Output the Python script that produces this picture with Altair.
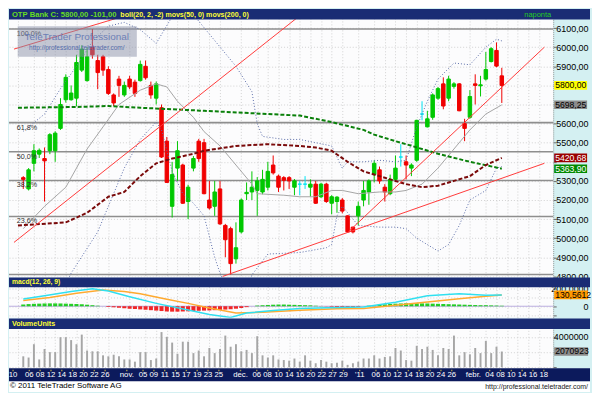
import altair as alt
import pandas as pd

# ---------------- layout helpers (reference is 600x400; chart is drawn 584x384 inside the 8px page margin)
SX = 584 / 600
SY = 384 / 400
def X(px): return round(px * SX, 2)
def Y(py): return round(py * SY, 2)

FULLW = X(600)
W = X(562)
H1 = Y(281)
H2 = round(Y(323) - Y(281), 2)
H3 = round(Y(375) - Y(323), 2)
H4 = round(Y(400) - Y(375), 2)

FONT = "Liberation Sans"
NAVY = "#1a2c74"

# ---------------- data (trading-day index: 0 = 2010-10-01)
day = list(range(1, 92))
opens = [5317,5258,5392,5440,5417,5458,5458,5575,5725,5725,
         5733,5880,5825,6000,5930,5950,5883,5750,5833,5750,
         5833,5817,5825,5900,5800,5733,5683,5508,5167,5367,
         5383,5192,5367,5508,5500,5200,5167,5258,5067,5050,
         4892,5033,5233,5242,5250,5242,5267,5383,5325,5317,
         5317,5267,5283,5283,5267,5283,5217,5283,5183,5192,
         5200,5117,5058,5117,5200,5242,5333,5358,5267,5233,
         5308,5425,5400,5367,5408,5650,5583,5633,5733,5808,
         5733,5795,5808,5600,5633,5808,5798,5833,5925,5983,
         5850]
highs = [5325,5367,5492,5470,5475,5550,5560,5733,5858,5800,
         5960,6010,6000,6095,5960,5960,5900,5758,5850,5820,
         5850,5830,5930,5930,5820,5820,5700,5530,5400,5508,
         5390,5280,5430,5520,5520,5300,5300,5300,5075,5060,
         5083,5208,5292,5350,5320,5358,5400,5433,5333,5325,
         5325,5310,5300,5325,5308,5300,5290,5290,5225,5220,
         5210,5120,5060,5192,5300,5308,5408,5375,5283,5333,
         5433,5492,5433,5392,5620,5717,5667,5758,5792,5842,
         5850,5817,5812,5625,5775,5858,5850,5975,6000,6025,
         5892]
lows = [5258,5250,5350,5420,5192,5440,5400,5567,5710,5720,
        5690,5870,5820,5940,5780,5850,5750,5692,5740,5740,
        5780,5740,5820,5830,5730,5700,5420,5290,5108,5300,
        5180,5100,5350,5400,5230,5150,5117,5070,4900,4810,
        4867,5025,5200,5200,5117,5230,5250,5333,5242,5250,
        5258,5225,5225,5258,5217,5180,5210,5185,5125,5133,
        5130,5030,5025,5067,5167,5175,5292,5285,5192,5225,
        5300,5375,5308,5325,5400,5617,5580,5620,5725,5675,
        5717,5783,5665,5508,5625,5700,5742,5825,5920,5895,
        5708]
closes = [5308,5358,5458,5460,5405,5542,5550,5700,5842,5760,
          5920,5990,5950,5960,5867,5880,5758,5708,5800,5800,
          5792,5758,5910,5840,5750,5808,5425,5292,5333,5458,
          5183,5267,5417,5417,5233,5158,5242,5075,4992,4867,
          4950,5200,5240,5267,5300,5308,5350,5342,5267,5303,
          5300,5300,5283,5283,5283,5183,5283,5192,5217,5215,
          5142,5033,5033,5167,5250,5300,5392,5300,5242,5308,
          5367,5425,5383,5383,5617,5650,5625,5750,5783,5692,
          5833,5808,5667,5575,5742,5800,5803,5883,5992,5901,
          5800]
volume_m = [1.44,1.28,3.03,1.03,2.4,1.99,1.99,3.95,3.95,3.57,
            3.03,4.29,2.2,2.1,2.1,1.57,1.44,1.65,1.44,1.03,
            1.03,0.74,1.99,1.99,0.95,1.15,4.62,4.0,3.24,1.78,
            3.36,3.36,1.86,2.2,1.44,2.53,1.86,2.4,4.16,2.7,
            3.03,2.1,2.28,1.86,4.08,1.57,1.28,1.57,1.03,0.95,
            0.87,1.15,0.74,1.57,0.87,0.53,0.95,0.74,0.53,0.61,
            0.87,0.32,0.53,0.74,1.15,1.15,1.57,1.15,1.36,1.44,
            2.53,2.2,0.95,0.87,2.82,2.4,2.7,2.28,1.57,2.53,
            2.4,4.16,1.57,1.99,1.7,2.53,1.86,3.45,1.86,2.7,
            2.070923]
macd_hist = [20,25,28,30,32,33,33,32,30,28,
             25,22,18,12,6,0,-8,-12,-18,-22,
             -28,-32,-36,-40,-45,-50,-55,-60,-62,-62,
             -60,-58,-55,-52,-50,-48,-45,-42,-38,-34,
             -28,-20,-10,0,8,12,15,18,20,20,
             18,16,14,12,10,6,2,-2,-6,-10,
             -14,-16,-14,-8,0,6,12,18,22,26,
             30,32,34,34,34,33,32,30,28,26,
             24,22,20,18,16,14,12,12,10,8,
             6]

bb_mid_day = [1,5,9,13,16,19,23,26,28,30,33,35,38,41,44,45,50,53,56,59,61,64,68,71,73,76,79,82,85,88,91]
bb_mid = [5050,5167,5267,5467,5583,5700,5775,5808,5792,5717,5633,5558,5483,5383,5283,5233,5225,5217,5217,5250,5250,5233,5242,5242,5250,5283,5367,5467,5567,5650,5698.25]
bb_up_day = [1,5,8,11,14,17,20,23,26,29,31,33,37,41,44,45,46,50,53,56,59,61,62,65,68,71,73,75,77,79,82,85,88,90,91]
bb_up = [5560,5650,5783,5900,6030,6110,6130,6092,6020,6160,6210,6170,6035,5900,5767,5600,5533,5517,5517,5500,5483,5367,5400,5400,5408,5400,5408,5583,5717,5833,5917,5908,6000,6042,6033]
bb_lo_day = [8,10,15,17,20,23,26,27,29,31,33,35,37,38,40,43,44,47,53,58,59,60,61,64,68,71,73,75,79,81,83,85,88,90,91]
bb_lo = [4700,4817,5033,5167,5367,5517,5608,5567,5350,5233,5183,5117,4900,4817,4700,4720,4808,4917,4925,4950,4967,5117,5167,5067,5058,5058,5050,5000,4933,4967,5067,5200,5250,5367,5375]
ma50_day = [0,3,9,13,17,20,23,26,29,33,35,41,47,53,56,59,62,65,68,70,73,76,79,82,85,88,91]
ma50 = [5067,5072,5083,5133,5217,5242,5325,5392,5417,5442,5458,5483,5492,5483,5475,5458,5400,5350,5325,5308,5283,5267,5275,5300,5325,5383,5420.68]
ma200_day = [0,11,17,23,35,47,53,59,65,67,71,73,79,85,91]
ma200 = [5683,5687,5692,5683,5667,5650,5642,5608,5567,5542,5508,5492,5442,5400,5363.90]

macd_day = [1,5,10,14,17,21,26,32,36,40,43,48,53,58,65,71,77,83,88,91]
macd_line = [84,120,170,200,175,110,33,-44,-95,-128,-77,-50,-25,-18,-8,47,121,143,125,128]
signal_day = [1,6,11,16,20,23,28,32,36,41,46,53,60,65,71,77,83,88,91]
signal_line = [66,100,150,186,170,143,80,33,-20,-77,-70,-45,-30,-26,11,50,85,115,130.5612]

fib_levels = [6095, 5605, 5453, 5302, 5114, 4810]
fib_labels = ["100,0%", "61,8%", "50,0%", "38,2%", "23,6%", ""]

trend_id = ["a", "a", "b", "b", "c", "c", "d", "d"]
trend_day = [-0.75, 18.4, -0.75, 53.0, 62.2, 99.0, 38.5, 99.0]
trend_price = [5990, 6150, 4978, 6165, 5035, 6000, 4800, 5392]

tick_day = [0,3,5,7,9,11,13,15,17,21,24,26,28,30,32,34,36,38,42,45,47,49,51,53,55,57,59,61,
            64,67,69,71,73,75,77,79,81,85,88,90,92,94,96,98]
tick_label = ["10","06","08","12","14","18","20","22","26","nov.","05","09","11","15","17","19","23","25",
              "dec.","06","08","10","14","16","20","22","27","29","'11","06","10","12","14","18","20","24","26",
              "febr.","04","08","10","14","16","18"]

price_tag_value = [5800.00, 5698.25, 5420.68, 5363.90]
price_tag_text = ["5800,00", "5698,25", "5420,68", "5363,90"]
price_tag_bg = ["#ffff00", "#8c8c8c", "#9a0000", "#008a00"]
price_tag_fg = ["#000000", "#000000", "#ffffff", "#ffffff"]
covered_price_labels = [5800, 5700, 5400]   # axis labels hidden under the value tags

# ---------------- scales
X_DOMAIN = [-4.2 / 5.593, (562 - 4.2) / 5.593]
P_DOMAIN = [4795, 6200]
M_DOMAIN = [-131.6, 329.0]
V_DOMAIN = [-100000, 6416000]

GRID = "#d2d2d2"
AXFS = 9
TAGFS = 8.7

def xenc(grid=True):
    if grid:
        ax = alt.Axis(values=tick_day, grid=True, labels=False, ticks=False, domain=False,
                      title=None, gridColor=GRID, gridDash=[1, 2])
    else:
        ax = None
    return alt.X("day:Q", scale=alt.Scale(domain=X_DOMAIN, nice=False, zero=False), axis=ax, title=None)

LABEL_PAD = round(X(598) - W - 3, 2)
def axis_common(**kw):
    base = dict(orient="right", title=None, grid=True, gridColor=GRID, gridDash=[1, 2],
                tickColor="#666666", tickSize=3, domainColor="#9a9a9a", domainDash=[1, 1],
                labelFontSize=AXFS, labelFont=FONT, labelColor="#000000", labelAlign="right",
                labelPadding=LABEL_PAD, labelOverlap=False)
    base.update(kw)
    return alt.Axis(**base)

hidden = " || ".join(f"datum.value == {v}" for v in covered_price_labels)
P_AXIS = axis_common(values=list(range(4800, 6101, 100)),
                     labelExpr=f"({hidden}) ? '' : replace(format(datum.value, '.2f'), '.', ',')")
def yp(field):
    return alt.Y(f"{field}:Q", scale=alt.Scale(domain=P_DOMAIN, nice=False, zero=False), axis=P_AXIS, title=None)

M_AXIS = axis_common(values=[-100, 0, 100, 200],
                     labelExpr="datum.value == 0 ? '0' : (datum.value == 200 ? replace(format(datum.value, '.4f'), '.', ',') : '')")
def ym(field):
    return alt.Y(f"{field}:Q", scale=alt.Scale(domain=M_DOMAIN, nice=False, zero=False), axis=M_AXIS, title=None)

V_AXIS = axis_common(values=[0, 2000000, 4000000],
                     labelExpr="datum.value == 4000000 ? '4000000' : ''")
def yv(field):
    return alt.Y(f"{field}:Q", scale=alt.Scale(domain=V_DOMAIN, nice=False, zero=False), axis=V_AXIS, title=None)

one = pd.DataFrame({"k": [0]})

def box(x1, x2, y1, y2, color, opacity=1.0):
    return alt.Chart(one).mark_rect(color=color, opacity=opacity).encode(
        x=alt.value(x1), x2=alt.value(x2), y=alt.value(y1), y2=alt.value(y2))

def label(text, x, y, color, size=9, align="left", weight="normal", opacity=1.0):
    return alt.Chart(one).mark_text(text=text, align=align, baseline="middle", fontSize=size,
                                    font=FONT, fontWeight=weight, color=color, opacity=opacity).encode(
        x=alt.value(x), y=alt.value(y))

# ---------------- panel 1: price
cdf = pd.DataFrame({"day": day, "open": opens, "high": highs, "low": lows, "close": closes})
cdf["dir"] = ["up" if c > o else ("down" if c < o else "flat") for o, c in zip(opens, closes)]
dir_scale = alt.Scale(domain=["up", "down", "flat"], range=["#00c800", "#f00000", "#00e4f4"])

fib_df = pd.DataFrame({"level": fib_levels, "label": fib_labels})
fib_rules = alt.Chart(fib_df).mark_rule(color="#8e8e8e", strokeWidth=1.6).encode(y=yp("level"))
fib_text = alt.Chart(fib_df).mark_text(align="left", baseline="middle", dy=5, fontSize=7.2, font=FONT,
                                       color="#303030").encode(
    x=alt.value(X(8)), y=yp("level"), text="label:N")

wicks = alt.Chart(cdf).mark_rule(strokeWidth=1).encode(
    x=xenc(), y=yp("low"), y2="high:Q", color=alt.Color("dir:N", scale=dir_scale, legend=None))
bodies = alt.Chart(cdf).mark_bar(width=X(3.6), strokeWidth=1).encode(
    x=xenc(), y=yp("open"), y2="close:Q",
    color=alt.Color("dir:N", scale=dir_scale, legend=None),
    stroke=alt.Stroke("dir:N", scale=dir_scale, legend=None))

def pline(days, vals, color, width, dash=None):
    df = pd.DataFrame({"day": days, "v": vals})
    kw = dict(color=color, strokeWidth=width, clip=True)
    if dash:
        kw["strokeDash"] = dash
    return alt.Chart(df).mark_line(**kw).encode(x=xenc(), y=yp("v"))

l_mid = pline(bb_mid_day, bb_mid, "#a4a4a4", 1)
l_up = pline(bb_up_day, bb_up, "#5a6ca8", 1, [1, 2])
l_lo = pline(bb_lo_day, bb_lo, "#5a6ca8", 1, [1, 2])
l_ma50 = pline(ma50_day, ma50, "#7a0a0a", 2, [4, 2])
l_ma200 = pline(ma200_day, ma200, "#0a800a", 2, [4, 2])

trend_df = pd.DataFrame({"id": trend_id, "day": trend_day, "v": trend_price})
trends = alt.Chart(trend_df).mark_line(color="#ff3a3a", strokeWidth=1, clip=True).encode(
    x=xenc(), y=yp("v"), detail="id:N")

ptag_df = pd.DataFrame({"v": price_tag_value, "t": price_tag_text, "bg": price_tag_bg, "fg": price_tag_fg})
P_HALF = round(4.3 / (H1 / (P_DOMAIN[1] - P_DOMAIN[0])), 2)
ptag_rect = alt.Chart(ptag_df).transform_calculate(
    lo=f"datum.v - {P_HALF}", hi=f"datum.v + {P_HALF}").mark_rect().encode(
    x=alt.value(X(563)), x2=alt.value(X(597)), y=yp("lo"), y2="hi:Q",
    fill=alt.Fill("bg:N", scale=None))
ptag_text = alt.Chart(ptag_df).mark_text(align="left", baseline="middle", fontSize=TAGFS, font=FONT).encode(
    x=alt.value(X(564)), y=yp("v"), text="t:N", fill=alt.Fill("fg:N", scale=None))

watermark = alt.layer(
    box(X(9), X(132), Y(18), Y(50), "#8a90a8", 0.5),
    label("TeleTrader Professional", X(70), Y(29), "#6478b4", size=10, align="center", opacity=0.9),
    label("http://professional.teletrader.com/", X(70), Y(40.5), "#4a64a8", size=6.5, align="center", opacity=0.9),
)

title1 = alt.layer(
    box(0, FULLW, 0, Y(11), NAVY),
    label("OTP Bank C: 5800,00 -101,00", X(3), Y(5.8), "#66dd22", size=7.7, weight="bold"),
    label("boll(20, 2, -2) movs(50, 0) movs(200, 0)", X(115), Y(5.8), "#ffff33", size=7.1, weight="bold"),
    label("naponta", X(546), Y(5.8), "#22cc22", size=7.5, align="center"),
)

panel1 = alt.layer(
    fib_rules, wicks, bodies, l_mid, l_up, l_lo, l_ma200, l_ma50, trends, fib_text,
    watermark, ptag_rect, ptag_text, title1
).properties(width=W, height=H1)

# ---------------- panel 2: MACD
hdf = pd.DataFrame({"day": day, "h": macd_hist, "base": [0] * len(day)})
hdf["sgn"] = ["pos" if v >= 0 else "neg" for v in macd_hist]
hist = alt.Chart(hdf).mark_bar(width=X(4.2), opacity=0.85).encode(
    x=xenc(), y=ym("base"), y2="h:Q",
    color=alt.Color("sgn:N", scale=alt.Scale(domain=["pos", "neg"], range=["#5cd65c", "#ff5c5c"]), legend=None))
zero_line = alt.Chart(pd.DataFrame({"z": [0]})).mark_rule(color="#bcaee0", strokeWidth=1).encode(y=ym("z"))
macd_l = alt.Chart(pd.DataFrame({"day": macd_day, "v": macd_line})).mark_line(
    color="#30e0f0", strokeWidth=1.5, clip=True).encode(x=xenc(), y=ym("v"))
sig_l = alt.Chart(pd.DataFrame({"day": signal_day, "v": signal_line})).mark_line(
    color="#ffaa30", strokeWidth=1.5, clip=True).encode(x=xenc(), y=ym("v"))
M_HALF = round(4.3 / (H2 / (M_DOMAIN[1] - M_DOMAIN[0])), 2)
mtag = pd.DataFrame({"v": [130.5612], "t": ["130,5612"]})
mtag_rect = alt.Chart(mtag).transform_calculate(
    lo=f"datum.v - {M_HALF}", hi=f"datum.v + {M_HALF}").mark_rect(color="#ff9a00").encode(
    x=alt.value(X(563)), x2=alt.value(X(598)), y=ym("lo"), y2="hi:Q")
mtag_text = alt.Chart(mtag).mark_text(align="left", baseline="middle", fontSize=TAGFS, font=FONT, color="#000000").encode(
    x=alt.value(X(564)), y=ym("v"), text="t:N")
title2 = alt.layer(
    box(0, FULLW, 0, round(Y(291) - Y(281), 2), NAVY),
    label("macd(12, 26, 9)", X(3), round(Y(286) - Y(281), 2), "#ffff33", size=6.8, weight="bold"),
)
panel2 = alt.layer(zero_line, hist, sig_l, macd_l, mtag_rect, mtag_text, title2).properties(width=W, height=H2)

# ---------------- panel 3: volume
vdf = pd.DataFrame({"day": day, "vol": [v * 1e6 for v in volume_m], "base": [0] * len(day)})
vbars = alt.Chart(vdf).mark_bar(width=X(2), color="#a6a6a6").encode(x=xenc(), y=yv("base"), y2="vol:Q")
V_HALF = round(4.3 / (H3 / (V_DOMAIN[1] - V_DOMAIN[0])), 2)
vtag = pd.DataFrame({"v": [2070923], "t": ["2070923"]})
vtag_rect = alt.Chart(vtag).transform_calculate(
    lo=f"datum.v - {V_HALF}", hi=f"datum.v + {V_HALF}").mark_rect(color="#8c8c8c").encode(
    x=alt.value(X(563)), x2=alt.value(X(598)), y=yv("lo"), y2="hi:Q")
vtag_text = alt.Chart(vtag).mark_text(align="left", baseline="middle", fontSize=TAGFS, font=FONT, color="#000000").encode(
    x=alt.value(X(564)), y=yv("v"), text="t:N")
title3 = alt.layer(
    box(0, FULLW, 0, round(Y(334) - Y(323), 2), NAVY),
    label("VolumeUnits", X(3), round(Y(328.5) - Y(323), 2), "#ffff33", size=7.2, weight="bold"),
)
panel3 = alt.layer(vbars, vtag_rect, vtag_text, title3).properties(width=W, height=H3)

# ---------------- panel 4: date axis bar + footer
BAR_H = round(Y(389) - Y(375), 2)
tdf = pd.DataFrame({"day": tick_day, "lab": tick_label})
tick_dots = alt.Chart(tdf).mark_point(shape="square", size=2, filled=True, color="#e8d040").encode(
    x=xenc(False), y=alt.value(round(Y(377.5) - Y(375), 2)))
tick_text = alt.Chart(tdf).mark_text(baseline="middle", fontSize=7.8, font=FONT, color="#ffffff", clip=True).encode(
    x=xenc(False), y=alt.value(round(Y(382.5) - Y(375), 2)), text="lab:N")
panel4 = alt.layer(
    box(0, FULLW, 0, BAR_H, "#0c1a5c"),
    box(0, FULLW, BAR_H, H4, "#ffffff"),
    tick_dots, tick_text,
    label("\u00a9 2011 TeleTrader Software AG", X(1), round(Y(394) - Y(375), 2), "#000000", size=8),
    label("http://professional.teletrader.com/", X(598), round(Y(394.5) - Y(375), 2), "#202020", size=7, align="right"),
).properties(width=W, height=H4)

chart = alt.vconcat(panel1, panel2, panel3, panel4, spacing=0, bounds="flush").properties(
    padding=0, background="#d4f0f2"
).configure_view(stroke=None, fill="#fcfcfd")

chart.save("out.html", embed_options={"renderer": "svg", "actions": False})
